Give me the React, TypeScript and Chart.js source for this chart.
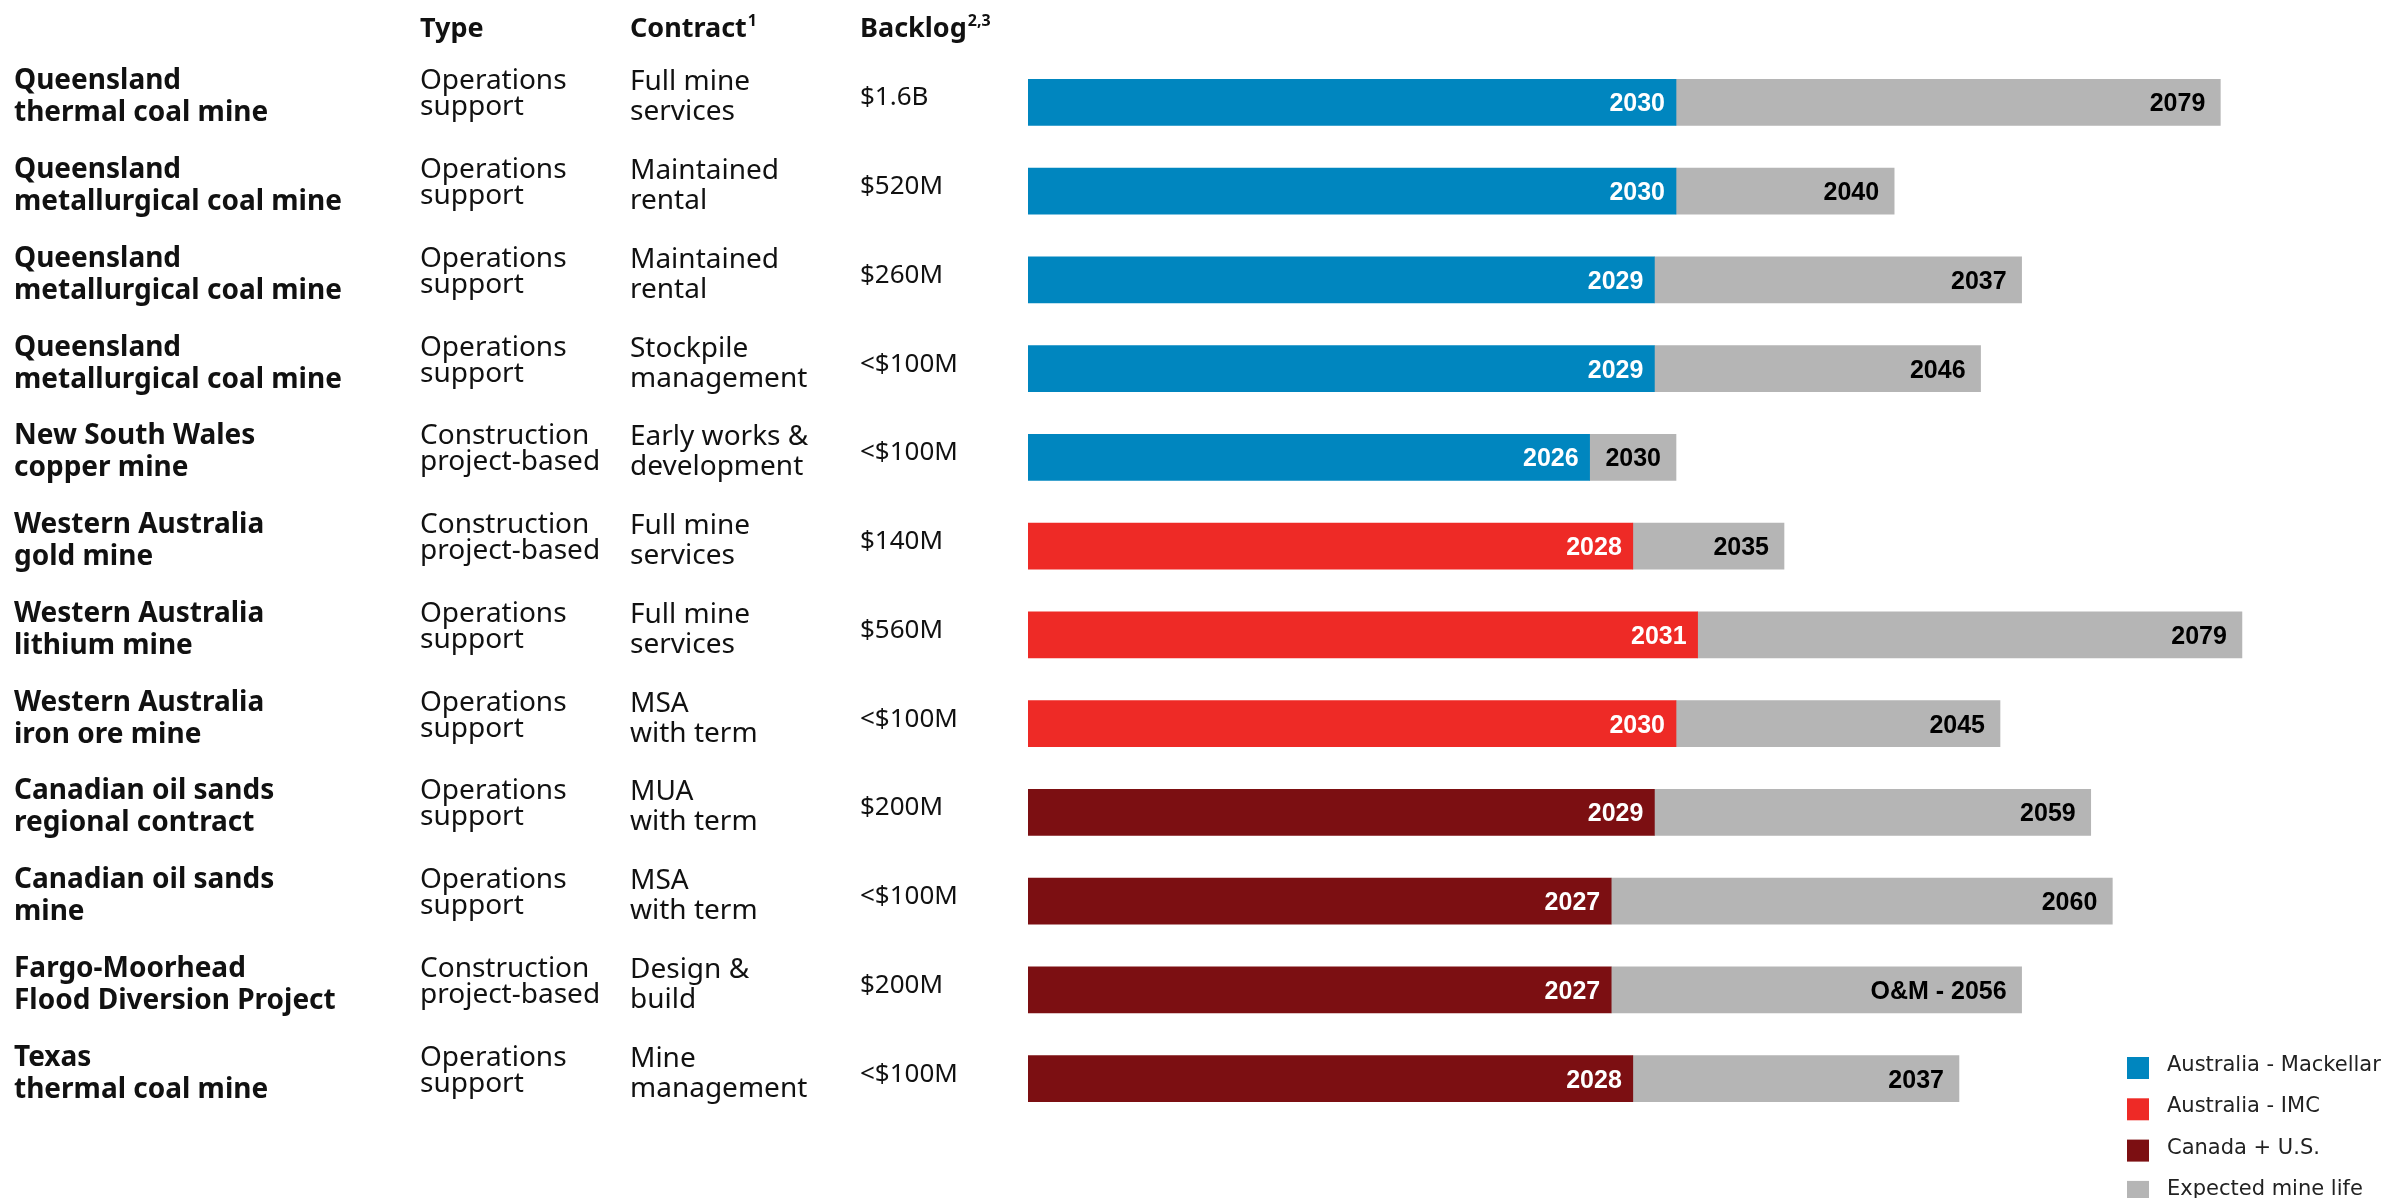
import { useEffect, useRef } from 'react';
import { Chart, registerables } from 'chart.js';

Chart.register(...registerables);

const W = 2392;
const H = 1198;

// ---------- data ----------
const siteNames: string[][] = [
  ['Queensland', 'thermal coal mine'],
  ['Queensland', 'metallurgical coal mine'],
  ['Queensland', 'metallurgical coal mine'],
  ['Queensland', 'metallurgical coal mine'],
  ['New South Wales', 'copper mine'],
  ['Western Australia', 'gold mine'],
  ['Western Australia', 'lithium mine'],
  ['Western Australia', 'iron ore mine'],
  ['Canadian oil sands', 'regional contract'],
  ['Canadian oil sands', 'mine'],
  ['Fargo-Moorhead', 'Flood Diversion Project'],
  ['Texas', 'thermal coal mine'],
];

const projectTypes: string[][] = [
  ['Operations', 'support'],
  ['Operations', 'support'],
  ['Operations', 'support'],
  ['Operations', 'support'],
  ['Construction', 'project-based'],
  ['Construction', 'project-based'],
  ['Operations', 'support'],
  ['Operations', 'support'],
  ['Operations', 'support'],
  ['Operations', 'support'],
  ['Construction', 'project-based'],
  ['Operations', 'support'],
];

const contractTypes: string[][] = [
  ['Full mine', 'services'],
  ['Maintained', 'rental'],
  ['Maintained', 'rental'],
  ['Stockpile', 'management'],
  ['Early works &', 'development'],
  ['Full mine', 'services'],
  ['Full mine', 'services'],
  ['MSA', 'with term'],
  ['MUA', 'with term'],
  ['MSA', 'with term'],
  ['Design &', 'build'],
  ['Mine', 'management'],
];

const backlogValues: string[] = [
  '$1.6B', '$520M', '$260M', '<$100M', '<$100M', '$140M',
  '$560M', '<$100M', '$200M', '<$100M', '$200M', '<$100M',
];

const regions: string[] = [
  'mackellar', 'mackellar', 'mackellar', 'mackellar', 'mackellar',
  'imc', 'imc', 'imc',
  'canus', 'canus', 'canus', 'canus',
];

const contractEndYears: number[] = [2030, 2030, 2029, 2029, 2026, 2028, 2031, 2030, 2029, 2027, 2027, 2028];

// where the grey "expected mine life" bar ends as drawn (axis units)
const mineLifeBarEnds: number[] = [2055.2, 2040.1, 2046, 2044.1, 2030, 2035, 2056.2, 2045, 2049.2, 2050.2, 2046, 2043.1];

const mineLifeLabels: string[] = [
  '2079', '2040', '2037', '2046', '2030', '2035',
  '2079', '2045', '2059', '2060', 'O&M - 2056', '2037',
];

const AXIS_START = 2000;
const AXIS_END = 2060;

const COLORS = {
  mackellar: '#0086BF',
  imc: '#EE2A26',
  canus: '#7C0F12',
  life: '#B5B5B5',
};

const seriesFor = (key: string) =>
  contractEndYears.map((end, i) => (regions[i] === key ? [AXIS_START, end] : null));

const BOLD_FONT = '"Noto Sans", "DejaVu Sans", sans-serif';
const REG_FONT = '"Noto Sans", "DejaVu Sans", sans-serif';
const LABEL_FONT = '"Liberation Sans", Arial, sans-serif';
const LEGEND_FONT = '"DejaVu Sans", sans-serif';

const tablePlugin = {
  id: 'tableColumns',
  afterDraw(chart: any) {
    const ctx = chart.ctx as CanvasRenderingContext2D;
    const y = chart.scales.y;
    ctx.save();
    ctx.fillStyle = '#111';
    ctx.textAlign = 'left';
    ctx.textBaseline = 'alphabetic';

    // header
    const headerBase = 37;
    const drawHeader = (text: string, sup: string, x: number) => {
      ctx.font = `bold 27px ${BOLD_FONT}`;
      ctx.fillText(text, x, headerBase);
      if (sup) {
        const w = ctx.measureText(text).width;
        ctx.font = `bold 16px ${BOLD_FONT}`;
        ctx.fillText(sup, x + w + 1, headerBase - 11);
      }
    };
    drawHeader('Type', '', 420);
    drawHeader('Contract', '1', 630);
    drawHeader('Backlog', '2,3', 860);

    ctx.font = `28px ${REG_FONT}`;
    projectTypes.forEach((lines, i) => {
      const cy = y.getPixelForValue(i);
      ctx.fillText(lines[0], 420, cy - 13);
      ctx.fillText(lines[1], 420, cy + 13);
    });
    contractTypes.forEach((lines, i) => {
      const cy = y.getPixelForValue(i);
      ctx.fillText(lines[0], 630, cy - 12);
      ctx.fillText(lines[1], 630, cy + 18);
    });
    ctx.font = `26px ${REG_FONT}`;
    backlogValues.forEach((v, i) => {
      const cy = y.getPixelForValue(i);
      ctx.fillText(v, 860, cy + 3);
    });
    ctx.restore();
  },
};

const barLabelPlugin = {
  id: 'barLabels',
  afterDatasetsDraw(chart: any) {
    const ctx = chart.ctx as CanvasRenderingContext2D;
    const xs = chart.scales.x;
    const ys = chart.scales.y;
    ctx.save();
    ctx.font = `bold 25px ${LABEL_FONT}`;
    ctx.textAlign = 'right';
    ctx.textBaseline = 'middle';
    chart.data.datasets.forEach((ds: any) => {
      ds.data.forEach((v: any, i: number) => {
        if (!v) return;
        const isLife = ds.label === 'Expected mine life';
        const x = xs.getPixelForValue(v[1]);
        const cy = ys.getPixelForValue(i) + 2;
        ctx.fillStyle = isLife ? '#000' : '#fff';
        ctx.fillText(isLife ? mineLifeLabels[i] : String(contractEndYears[i]), x - (isLife ? 15 : 11), cy);
      });
    });
    ctx.restore();
  },
};

const legendPlugin = {
  id: 'customLegend',
  afterDraw(chart: any) {
    const ctx = chart.ctx as CanvasRenderingContext2D;
    ctx.save();
    ctx.font = `21px ${LEGEND_FONT}`;
    ctx.textAlign = 'left';
    ctx.textBaseline = 'alphabetic';
    chart.data.datasets.forEach((ds: any, i: number) => {
      const top = 1057 + i * 41.3;
      ctx.fillStyle = ds.backgroundColor;
      ctx.fillRect(2127, top, 22, 22);
      ctx.fillStyle = '#222';
      ctx.fillText(ds.label, 2167, top + 14);
    });
    ctx.restore();
  },
};

export default function App() {
  const ref = useRef<HTMLCanvasElement | null>(null);

  useEffect(() => {
    document.body.style.margin = '0';
    const canvas = ref.current;
    if (!canvas) return;
    const chart = new Chart(canvas, {
      type: 'bar',
      data: {
        labels: siteNames,
        datasets: [
          { label: 'Australia - Mackellar', data: seriesFor('mackellar') as any, backgroundColor: COLORS.mackellar },
          { label: 'Australia - IMC', data: seriesFor('imc') as any, backgroundColor: COLORS.imc },
          { label: 'Canada + U.S.', data: seriesFor('canus') as any, backgroundColor: COLORS.canus },
          {
            label: 'Expected mine life',
            data: contractEndYears.map((end, i) => [end, mineLifeBarEnds[i]]) as any,
            backgroundColor: COLORS.life,
          },
        ],
      },
      options: {
        indexAxis: 'y',
        responsive: false,
        animation: false,
        maintainAspectRatio: false,
        layout: { padding: { left: 14, right: 68, top: 58, bottom: 75 } },
        datasets: { bar: { grouped: false, barThickness: 46 } } as any,
        plugins: {
          legend: { display: false },
          tooltip: { enabled: false },
        },
        scales: {
          x: {
            type: 'linear',
            min: AXIS_START,
            max: AXIS_END,
            display: false,
          },
          y: {
            type: 'category',
            grid: { display: false },
            border: { display: false },
            afterFit: (scale: any) => {
              scale.width = 1014;
            },
            ticks: {
              crossAlign: 'far',
              padding: 0,
              labelOffset: -5,
              color: '#111',
              font: { family: BOLD_FONT, size: 28, weight: 'bold', lineHeight: 32 / 28 },
            },
          },
        },
      } as any,
      plugins: [barLabelPlugin, tablePlugin, legendPlugin],
    });
    return () => chart.destroy();
  }, []);

  return (
    <div style={{ width: W, height: H, position: 'relative' }}>
      <canvas ref={ref} width={W} height={H} style={{ width: W, height: H, display: 'block' }} />
    </div>
  );
}
